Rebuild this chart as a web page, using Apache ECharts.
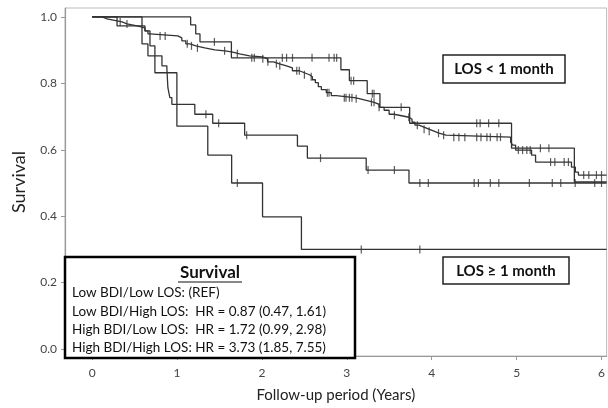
<!DOCTYPE html>
<html>
<head>
<meta charset="utf-8">
<script src="https://cdn.jsdelivr.net/npm/echarts@6/dist/echarts.min.js"></script>
<style>
html, body { margin: 0; padding: 0; background: #fff; }
#container { width: 608px; height: 408px; }
</style>
</head>
<body>
<div id="container"></div>
<script>
var xTicks = [0, 1, 2, 3, 4, 5, 6];
var yTicks = [0, 0.2, 0.4, 0.6, 0.8, 1.0];

// Kaplan-Meier steps: [years, survival after the drop]
var lowBdiLowLos = [[0, 1], [0.117, 0.994], [0.176, 0.988], [0.293, 0.985], [0.352, 0.979], [0.411, 0.973],
    [0.528, 0.967], [0.622, 0.958], [0.657, 0.949], [0.681, 0.943], [1.009, 0.937], [1.056, 0.928],
    [1.103, 0.919], [1.150, 0.913], [1.221, 0.907], [1.326, 0.901], [1.444, 0.898], [1.561, 0.895],
    [1.643, 0.889], [1.737, 0.883], [1.854, 0.880], [2.007, 0.874], [2.066, 0.865], [2.136, 0.859],
    [2.207, 0.853], [2.289, 0.847], [2.359, 0.838], [2.441, 0.832], [2.500, 0.826], [2.559, 0.820],
    [2.594, 0.811], [2.629, 0.802], [2.664, 0.790], [2.700, 0.781], [2.758, 0.772], [2.817, 0.763],
    [2.876, 0.757], [3.087, 0.754], [3.146, 0.749], [3.228, 0.743], [3.322, 0.737], [3.380, 0.728],
    [3.439, 0.719], [3.498, 0.707], [3.556, 0.704], [3.615, 0.701], [3.674, 0.698], [3.732, 0.692],
    [3.768, 0.683], [3.803, 0.674], [3.850, 0.668], [3.908, 0.662], [3.967, 0.656], [4.026, 0.650],
    [4.085, 0.644], [4.167, 0.638], [4.930, 0.623], [4.953, 0.614], [4.988, 0.599], [5.176, 0.584],
    [5.223, 0.563], [5.646, 0.548], [5.692, 0.533], [5.728, 0.524]];
var lowBdiLowLosCensor = [0.33, 0.41, 0.80, 0.86, 1.12, 1.17, 1.24, 1.56, 1.71, 2.01, 2.07, 2.17, 2.21,
    2.41, 2.44, 2.50, 2.58, 2.77, 2.79, 2.97, 2.99, 3.03, 3.06, 3.11, 3.29, 3.32, 3.38, 3.56, 3.73,
    3.83, 3.91, 3.97, 4.08, 4.14, 4.26, 4.32, 4.39, 4.53, 4.58, 4.65, 4.69, 4.77, 4.81, 5.02, 5.07,
    5.12, 5.16, 5.40, 5.45, 5.56, 5.61, 5.79, 5.85, 5.94, 6.00];

var lowBdiHighLos = [[0, 1], [1.16, 0.976], [1.22, 0.949], [1.27, 0.925], [1.64, 0.877], [2.93, 0.841],
    [3.03, 0.808], [3.24, 0.769], [3.39, 0.728], [3.74, 0.680], [4.94, 0.605], [5.68, 0.503]];
var lowBdiHighLosCensor = [1.44, 1.88, 1.91, 2.24, 2.29, 2.36, 2.59, 2.79, 2.85, 2.88, 3.05, 3.08,
    3.30, 3.32, 3.64, 4.53, 4.57, 4.67, 4.79, 5.28, 5.38];

var highBdiLowLos = [[0, 1], [0.293, 0.973], [0.622, 0.958], [0.681, 0.913], [0.739, 0.883],
    [0.822, 0.853], [0.880, 0.844], [0.892, 0.787], [0.915, 0.757], [0.939, 0.737], [1.209, 0.707],
    [1.420, 0.680], [1.796, 0.644], [2.418, 0.611], [2.535, 0.575], [3.228, 0.539], [3.732, 0.500]];
var highBdiLowLosCensor = [1.34, 1.49, 1.82, 2.69, 3.25, 3.56, 3.86, 3.96, 4.50, 4.55, 4.69, 4.79,
    5.15, 5.42, 5.52, 5.69, 5.92, 6.00];

var highBdiHighLos = [[0, 1], [0.587, 0.919], [0.657, 0.883], [0.739, 0.832], [0.998, 0.671],
    [1.362, 0.584], [1.643, 0.500], [2.007, 0.398], [2.465, 0.300]];
var highBdiHighLosCensor = [1.71, 3.17, 3.86];

var legendTitle = 'Survival';
var legendLines = [
    'Low BDI/Low LOS: (REF)',
    'Low BDI/High LOS:  HR = 0.87 (0.47, 1.61)',
    'High BDI/Low LOS:  HR = 1.72 (0.99, 2.98)',
    'High BDI/High LOS: HR = 3.73 (1.85, 7.55)'
];

var xMin = -0.32, xMax = 6.06;
var ink = '#333';

function survAt(curve, t) {
    var s = curve[0][1];
    for (var i = 0; i < curve.length; i++) {
        if (curve[i][0] <= t) s = curve[i][1];
    }
    return s;
}

function kmSeries(name, curve, censor) {
    var last = curve[curve.length - 1][1];
    return [{
        name: name,
        type: 'line',
        step: 'end',
        symbol: 'none',
        lineStyle: { color: ink, width: 1.3 },
        data: curve.concat([[xMax, last]]),
        z: 3
    }, {
        name: name + ' censored',
        type: 'scatter',
        symbol: 'rect',
        symbolSize: [1.2, 8],
        itemStyle: { color: ink },
        data: censor.map(function (t) { return [t, survAt(curve, t)]; }),
        z: 4
    }];
}

var series = []
    .concat(kmSeries('Low BDI/Low LOS', lowBdiLowLos, lowBdiLowLosCensor))
    .concat(kmSeries('Low BDI/High LOS', lowBdiHighLos, lowBdiHighLosCensor))
    .concat(kmSeries('High BDI/Low LOS', highBdiLowLos, highBdiLowLosCensor))
    .concat(kmSeries('High BDI/High LOS', highBdiHighLos, highBdiHighLosCensor));

var font = 'Lato, "Noto Sans", sans-serif';

// legend box text
var legendGraphics = [{
    type: 'rect',
    shape: { x: 65, y: 257, width: 290, height: 101 },
    style: { fill: '#fff', stroke: '#000', lineWidth: 2.5 },
    z: 10
}, {
    type: 'text',
    style: { text: legendTitle, x: 210, y: 273, align: 'center', verticalAlign: 'middle',
        font: 'bold 17px ' + font, fill: '#111' },
    z: 11
}, {
    type: 'line',
    shape: { x1: 178, y1: 282, x2: 242, y2: 282 },
    style: { stroke: '#111', lineWidth: 1.2 },
    z: 11
}];
legendLines.forEach(function (txt, i) {
    legendGraphics.push({
        type: 'text',
        style: { text: txt, x: 72, y: 293 + i * 18.3, align: 'left', verticalAlign: 'middle',
            font: '13.5px ' + font, fill: '#111' },
        z: 11
    });
});

var option = {
    backgroundColor: '#fff',
    animation: false,
    grid: {
        left: 65, right: 1, top: 8, bottom: 51,
        show: true, borderColor: '#bbb', borderWidth: 1
    },
    xAxis: {
        type: 'value',
        min: xMin,
        max: xMax,
        name: 'Follow-up period (Years)',
        nameLocation: 'middle',
        nameGap: 32,
        nameTextStyle: { fontFamily: font, fontSize: 15, color: '#222' },
        axisLine: { onZero: false, lineStyle: { color: '#999', width: 1.2 } },
        axisTick: { show: true, customValues: xTicks, length: 4, lineStyle: { color: '#999' } },
        axisLabel: { customValues: xTicks, margin: 11, fontFamily: font, fontSize: 12, color: '#444' },
        splitLine: { show: false }
    },
    yAxis: {
        type: 'value',
        min: -0.021,
        max: 1.027,
        name: 'Survival',
        nameLocation: 'middle',
        nameGap: 37,
        nameRotate: 90,
        nameTextStyle: { fontFamily: font, fontSize: 18, color: '#222' },
        axisLine: { show: true, onZero: false, lineStyle: { color: '#999', width: 1.2 } },
        axisTick: { show: true, customValues: yTicks, length: 4, lineStyle: { color: '#999' } },
        axisLabel: {
            customValues: yTicks, margin: 8, fontFamily: font, fontSize: 12, color: '#444',
            formatter: function (v) { return v.toFixed(1); }
        },
        splitLine: { show: false }
    },
    graphic: legendGraphics.concat([{
        type: 'rect',
        shape: { x: 443, y: 55, width: 122, height: 28 },
        style: { fill: '#fff', stroke: '#222', lineWidth: 1.5 },
        z: 10
    }, {
        type: 'text',
        style: { text: 'LOS < 1 month', x: 504, y: 69, align: 'center', verticalAlign: 'middle',
            font: 'bold 15px ' + font, fill: '#111' },
        z: 11
    }, {
        type: 'rect',
        shape: { x: 443, y: 257, width: 126, height: 27 },
        style: { fill: '#fff', stroke: '#222', lineWidth: 1.5 },
        z: 10
    }, {
        type: 'text',
        style: { text: 'LOS ≥ 1 month', x: 506, y: 271, align: 'center', verticalAlign: 'middle',
            font: 'bold 15px ' + font, fill: '#111' },
        z: 11
    }]),
    series: series
};

var chart = echarts.init(document.getElementById('container'));
chart.setOption(option);
</script>
</body>
</html>
